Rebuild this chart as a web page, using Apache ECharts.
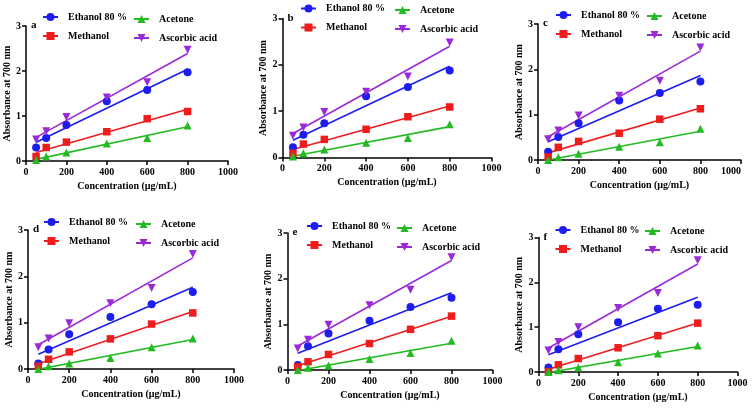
<!DOCTYPE html>
<html>
<head>
<meta charset="utf-8">
<script src="https://cdn.jsdelivr.net/npm/echarts@6/dist/echarts.min.js"></script>
<style>
html,body{margin:0;padding:0;background:#fff;}
#chart{width:753px;height:410px;}
</style>
</head>
<body>
<div id="chart"></div>
<script>
// ---- data ----
const concentrations = [50, 100, 200, 400, 600, 800];
const panelLabels = ['a', 'b', 'c', 'd', 'e', 'f'];
const seriesNames = ['Ethanol 80 %', 'Methanol', 'Acetone', 'Ascorbic acid'];
const xTicks = [0, 200, 400, 600, 800, 1000];
const yTicks = [0, 1, 2, 3];

// absorbance per panel (a..f)
const ethanol80 = [
  [0.30, 0.51, 0.80, 1.33, 1.58, 1.97],
  [0.22, 0.49, 0.74, 1.32, 1.52, 1.88],
  [0.18, 0.51, 0.81, 1.31, 1.48, 1.73],
  [0.12, 0.42, 0.75, 1.12, 1.40, 1.66],
  [0.11, 0.52, 0.80, 1.08, 1.38, 1.58],
  [0.10, 0.51, 0.84, 1.11, 1.41, 1.50]
];
const methanol = [
  [0.10, 0.30, 0.42, 0.65, 0.94, 1.10],
  [0.09, 0.29, 0.39, 0.61, 0.88, 1.09],
  [0.07, 0.28, 0.41, 0.59, 0.90, 1.13],
  [0.06, 0.21, 0.37, 0.65, 0.97, 1.21],
  [0.07, 0.18, 0.34, 0.58, 0.89, 1.18],
  [0.01, 0.16, 0.30, 0.54, 0.81, 1.09]
];
const acetone = [
  [0.02, 0.10, 0.19, 0.39, 0.51, 0.79],
  [0.02, 0.09, 0.17, 0.32, 0.42, 0.72],
  [0.00, 0.06, 0.14, 0.29, 0.39, 0.69],
  [0.00, 0.06, 0.12, 0.24, 0.47, 0.66],
  [0.00, 0.05, 0.10, 0.24, 0.37, 0.64],
  [0.00, 0.04, 0.10, 0.22, 0.41, 0.59]
];
const ascorbicAcid = [
  [0.48, 0.66, 0.98, 1.41, 1.75, 2.47],
  [0.47, 0.65, 0.98, 1.42, 1.75, 2.48],
  [0.46, 0.65, 0.98, 1.42, 1.75, 2.48],
  [0.47, 0.66, 0.99, 1.42, 1.75, 2.48],
  [0.47, 0.66, 0.99, 1.42, 1.76, 2.47],
  [0.48, 0.67, 1.00, 1.43, 1.76, 2.49]
];

// ---- styling / layout ----
const FONT = '"Liberation Serif", "Times New Roman", serif';
const styles = [
  { color: '#1d1df0', symbol: 'circle', rotate: 0, size: 8 },
  { color: '#ee1c1c', symbol: 'rect', rotate: 0, size: 7.5 },
  { color: '#22bb22', symbol: 'triangle', rotate: 0, size: 8 },
  { color: '#9a2ad8', symbol: 'triangle', rotate: 180, size: 8 }
];
const layout = [
  { left: 26,    top: 26,    width: 202, height: 135, c1x: 42,    c1y: 17,  c2x: 133, c2y: 19 },
  { left: 282.5, top: 18.5,  width: 209, height: 139, c1x: 300,   c1y: 8.5, c2x: 394, c2y: 10 },
  { left: 538,   top: 24,    width: 203, height: 136, c1x: 555,   c1y: 15,  c2x: 646, c2y: 16 },
  { left: 28,    top: 230,   width: 206, height: 139, c1x: 43,    c1y: 222, c2x: 135, c2y: 224 },
  { left: 287.5, top: 233,   width: 205, height: 137, c1x: 306,   c1y: 226, c2x: 396, c2y: 228 },
  { left: 538.5, top: 237.5, width: 199, height: 134.5, c1x: 554.5, c1y: 230, c2x: 644, c2y: 231 }
];

function fit(xs, ys) {
  const n = xs.length;
  const mx = xs.reduce((s, v) => s + v, 0) / n;
  const my = ys.reduce((s, v) => s + v, 0) / n;
  let sxy = 0, sxx = 0;
  for (let i = 0; i < n; i++) { sxy += (xs[i] - mx) * (ys[i] - my); sxx += (xs[i] - mx) ** 2; }
  const b = sxy / sxx;
  const a = my - b * mx;
  const x0 = xs[0], x1 = xs[n - 1];
  return [[x0, a + b * x0], [x1, a + b * x1]];
}

const allData = [ethanol80, methanol, acetone, ascorbicAcid];
const grids = [], xAxes = [], yAxes = [], legends = [], series = [], graphics = [];
const axisCommon = {
  axisLine: { show: true, lineStyle: { color: '#000', width: 1.5 } },
  axisTick: { show: true, length: 4, lineStyle: { color: '#000', width: 1.5 } },
  splitLine: { show: false },
  nameTextStyle: { color: '#000', fontFamily: FONT, fontWeight: 'bold', fontSize: 10 }
};
const labelCommon = { color: '#000', fontFamily: FONT, fontWeight: 'bold', fontSize: 10, formatter: v => String(v) };

layout.forEach((L, p) => {
  grids.push({ left: L.left, top: L.top, width: L.width, height: L.height, containLabel: false });
  xAxes.push(Object.assign({}, axisCommon, {
    gridIndex: p, type: 'value', min: xTicks[0], max: xTicks[xTicks.length - 1],
    interval: xTicks[1] - xTicks[0],
    name: 'Concentration (µg/mL)', nameLocation: 'middle', nameGap: 20,
    axisLabel: Object.assign({}, labelCommon, { margin: 6 })
  }));
  yAxes.push(Object.assign({}, axisCommon, {
    gridIndex: p, type: 'value', min: yTicks[0], max: yTicks[yTicks.length - 1],
    interval: yTicks[1] - yTicks[0],
    name: 'Absorbance at 700 nm', nameLocation: 'middle', nameGap: 13,
    axisLabel: Object.assign({}, labelCommon, { margin: 5 })
  }));
  const legendCommon = {
    orient: 'vertical', padding: 0, itemGap: 9, itemWidth: 15, itemHeight: 10,
    selectedMode: false,
    textStyle: { color: '#000', fontFamily: FONT, fontWeight: 'bold', fontSize: 10, padding: [0, 0, 0, 5] }
  };
  legends.push(Object.assign({}, legendCommon, { left: L.c1x, top: L.c1y - 5, data: [seriesNames[0], seriesNames[1]] }));
  legends.push(Object.assign({}, legendCommon, { left: L.c2x, top: L.c2y - 5, data: [seriesNames[2], seriesNames[3]] }));

  allData.forEach((arr, s) => {
    const st = styles[s];
    series.push({
      name: seriesNames[s], type: 'line', xAxisIndex: p, yAxisIndex: p,
      data: fit(concentrations, arr[p]),
      symbol: st.symbol, symbolRotate: st.rotate, showSymbol: false,
      lineStyle: { color: st.color, width: 1.6 }, itemStyle: { color: st.color },
      silent: true, animation: false, z: 2
    });
  });
  allData.forEach((arr, s) => {
    const st = styles[s];
    series.push({
      name: seriesNames[s], type: 'scatter', xAxisIndex: p, yAxisIndex: p,
      data: concentrations.map((c, i) => [c, arr[p][i]]),
      symbol: st.symbol, symbolRotate: st.rotate, symbolSize: st.size,
      itemStyle: { color: st.color, opacity: 1 },
      silent: true, animation: false, z: 3
    });
  });

  graphics.push({
    type: 'text', left: L.left + 5, top: L.top - 6,
    style: { text: panelLabels[p], fill: '#000', font: 'bold 11px ' + FONT }
  });
});

// panel c: last x label kept inside figure
xAxes[2].axisLabel.alignMaxLabel = 'right';

const chart = echarts.init(document.getElementById('chart'), null, { renderer: 'canvas' });
chart.setOption({
  backgroundColor: '#fff',
  animation: false,
  grid: grids, xAxis: xAxes, yAxis: yAxes, legend: legends, series: series,
  graphic: graphics
});
</script>
</body>
</html>
